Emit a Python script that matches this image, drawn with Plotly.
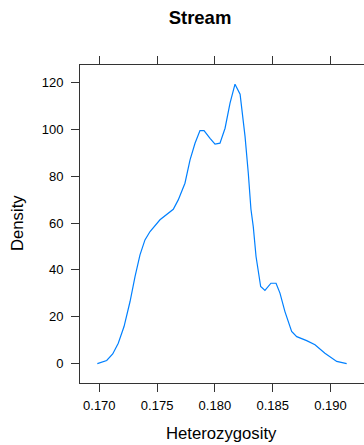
import plotly.graph_objects as go

heterozygosity = [0.16983, 0.17064, 0.17116, 0.17164, 0.17214, 0.17266, 0.17309, 0.17352,
                  0.17395, 0.17439, 0.17525, 0.17640, 0.17683, 0.17741, 0.17785, 0.17828,
                  0.17871, 0.17906, 0.17958, 0.18001, 0.18044, 0.18088, 0.18131, 0.18174,
                  0.18218, 0.18261, 0.18289, 0.18312, 0.18332, 0.18356, 0.18396, 0.18433,
                  0.18485, 0.18529, 0.18563, 0.18606, 0.18664, 0.18708, 0.18794, 0.18866,
                  0.18952, 0.19054, 0.19140]
density = [0.0, 1.3, 4.1, 8.7, 15.8, 26.5, 37.1, 46.4,
           52.8, 56.4, 61.4, 65.9, 69.9, 77.0, 87.0, 94.1,
           99.5, 99.5, 96.2, 93.7, 94.1, 100.5, 111.2, 119.3,
           115.0, 96.9, 81.3, 65.9, 58.5, 45.7, 32.9, 31.2,
           34.3, 34.3, 30.1, 22.2, 13.7, 11.5, 9.8, 8.0,
           4.4, 0.9, 0.0]

x_ticks = [0.170, 0.175, 0.180, 0.185, 0.190]
x_ticklabels = ["0.170", "0.175", "0.180", "0.185", "0.190"]
y_ticks = [0, 20, 40, 60, 80, 100, 120]

W, H = 364, 445
L, R, T, B = 80, 0, 65, 62

fig = go.Figure()
fig.add_trace(go.Scatter(x=heterozygosity, y=density, mode="lines",
                         line=dict(color="#0080ff", width=1.2), hoverinfo="skip"))

font = "Liberation Sans, Arial, sans-serif"
fig.update_layout(
    width=W, height=H,
    margin=dict(l=L, r=R, t=T, b=B, autoexpand=False),
    paper_bgcolor="white", plot_bgcolor="white",
    showlegend=False,
    font=dict(family=font, size=13, color="black"),
    title=dict(text="<b>Stream</b>", x=200 / W, xanchor="center",
               y=1 - 18 / H, yanchor="middle", font=dict(size=18.5, family=font)),
    xaxis=dict(range=[0.16833, 0.19290], tickvals=x_ticks, ticktext=x_ticklabels,
               ticks="outside", ticklen=8, tickcolor="#333", tickwidth=1,
               showline=True, linecolor="#333", linewidth=1, mirror="ticks",
               showgrid=False, zeroline=False, ticklabelstandoff=2, automargin=False),
    yaxis=dict(range=[-8.3, 127.5], tickvals=y_ticks,
               ticks="outside", ticklen=8, tickcolor="#333", tickwidth=1,
               showline=True, linecolor="#333", linewidth=1, mirror=False,
               showgrid=False, zeroline=False, ticklabelstandoff=5, automargin=False),
    annotations=[
        dict(text="Heterozygosity", xref="paper", yref="paper",
             x=(221 - L) / (W - L - R), y=-(433 - (H - B)) / (H - T - B),
             xanchor="center", yanchor="middle",
             showarrow=False, font=dict(size=16.7)),
        dict(text="Density", xref="paper", yref="paper", textangle=-90,
             x=-(L - 17) / (W - L - R), y=(H - B - 223) / (H - T - B),
             xanchor="center", yanchor="middle", showarrow=False, font=dict(size=16.7)),
    ],
)

fig.write_html("out.html", config={"displayModeBar": False, "staticPlot": True},
               post_script="document.body.style.margin='0';")
